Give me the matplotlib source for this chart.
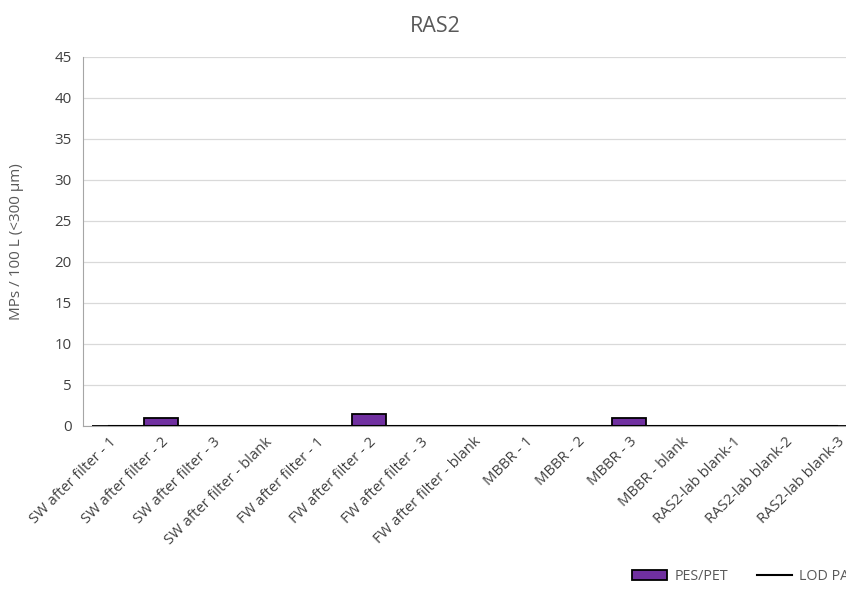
import matplotlib
matplotlib.use("Agg")
import matplotlib.pyplot as plt
import numpy as np

plt.rcParams['font.family'] = ['Open Sans', 'DejaVu Sans']

categories = [
    "SW after filter - 1", "SW after filter - 2", "SW after filter - 3",
    "SW after filter - blank", "FW after filter - 1", "FW after filter - 2",
    "FW after filter - 3", "FW after filter - blank", "MBBR - 1", "MBBR - 2",
    "MBBR - 3", "MBBR - blank", "RAS2-lab blank-1", "RAS2-lab blank-2",
    "RAS2-lab blank-3",
]
pes_pet = [0, 1.0, 0, 0, 0, 1.5, 0, 0, 0, 0, 1.0, 0, 0, 0, 0]
lod_pa = [0] * len(categories)
y_ticks = [0, 5, 10, 15, 20, 25, 30, 35, 40, 45]

grey_text = "#595959"
dark_text = "#404040"

fig = plt.figure(figsize=(8.46, 5.91), dpi=100)
ax = fig.add_axes([0.0981, 0.2792, 0.9220, 0.6244])

x = np.arange(len(categories))
bars = ax.bar(x, pes_pet, width=0.67, color="#7030A0", edgecolor="black",
              linewidth=1.3, label="PES/PET", zorder=3)
line, = ax.plot(x, lod_pa, color="black", linewidth=1.5, label="LOD PA", zorder=4)

ax.set_xlim(-0.5, len(categories) - 0.5)
ax.set_ylim(0, 45)
ax.set_yticks(y_ticks)
ax.set_xticks(x)
ax.set_xticklabels(categories, rotation=45, ha="right", rotation_mode="anchor",
                   fontsize=10.6, color=dark_text)
ax.tick_params(axis="y", labelsize=10.8, colors=dark_text, length=0, pad=8)
ax.tick_params(axis="x", length=0, pad=6)

ax.grid(axis="y", color="#d9d9d9", linewidth=0.9, zorder=0)
ax.set_axisbelow(True)
for side in ("top", "right"):
    ax.spines[side].set_visible(False)
ax.spines["left"].set_color("#a6a6a6")
ax.spines["bottom"].set_color("#a6a6a6")

ax.set_ylabel("MPs / 100 L (<300 μm)", fontsize=11, color=grey_text, labelpad=22)
fig.text(0.515, 0.955, "RAS2", ha="center", va="center", fontsize=15.5, color=grey_text)

fig.legend([bars, line], ["PES/PET", "LOD PA"], loc="center left",
           bbox_to_anchor=(0.732, 0.025), ncol=2, frameon=False,
           fontsize=10.3, labelcolor=grey_text, handlelength=2.45, columnspacing=2.0,
           handletextpad=0.5)

fig.savefig("out.png", dpi=100)
